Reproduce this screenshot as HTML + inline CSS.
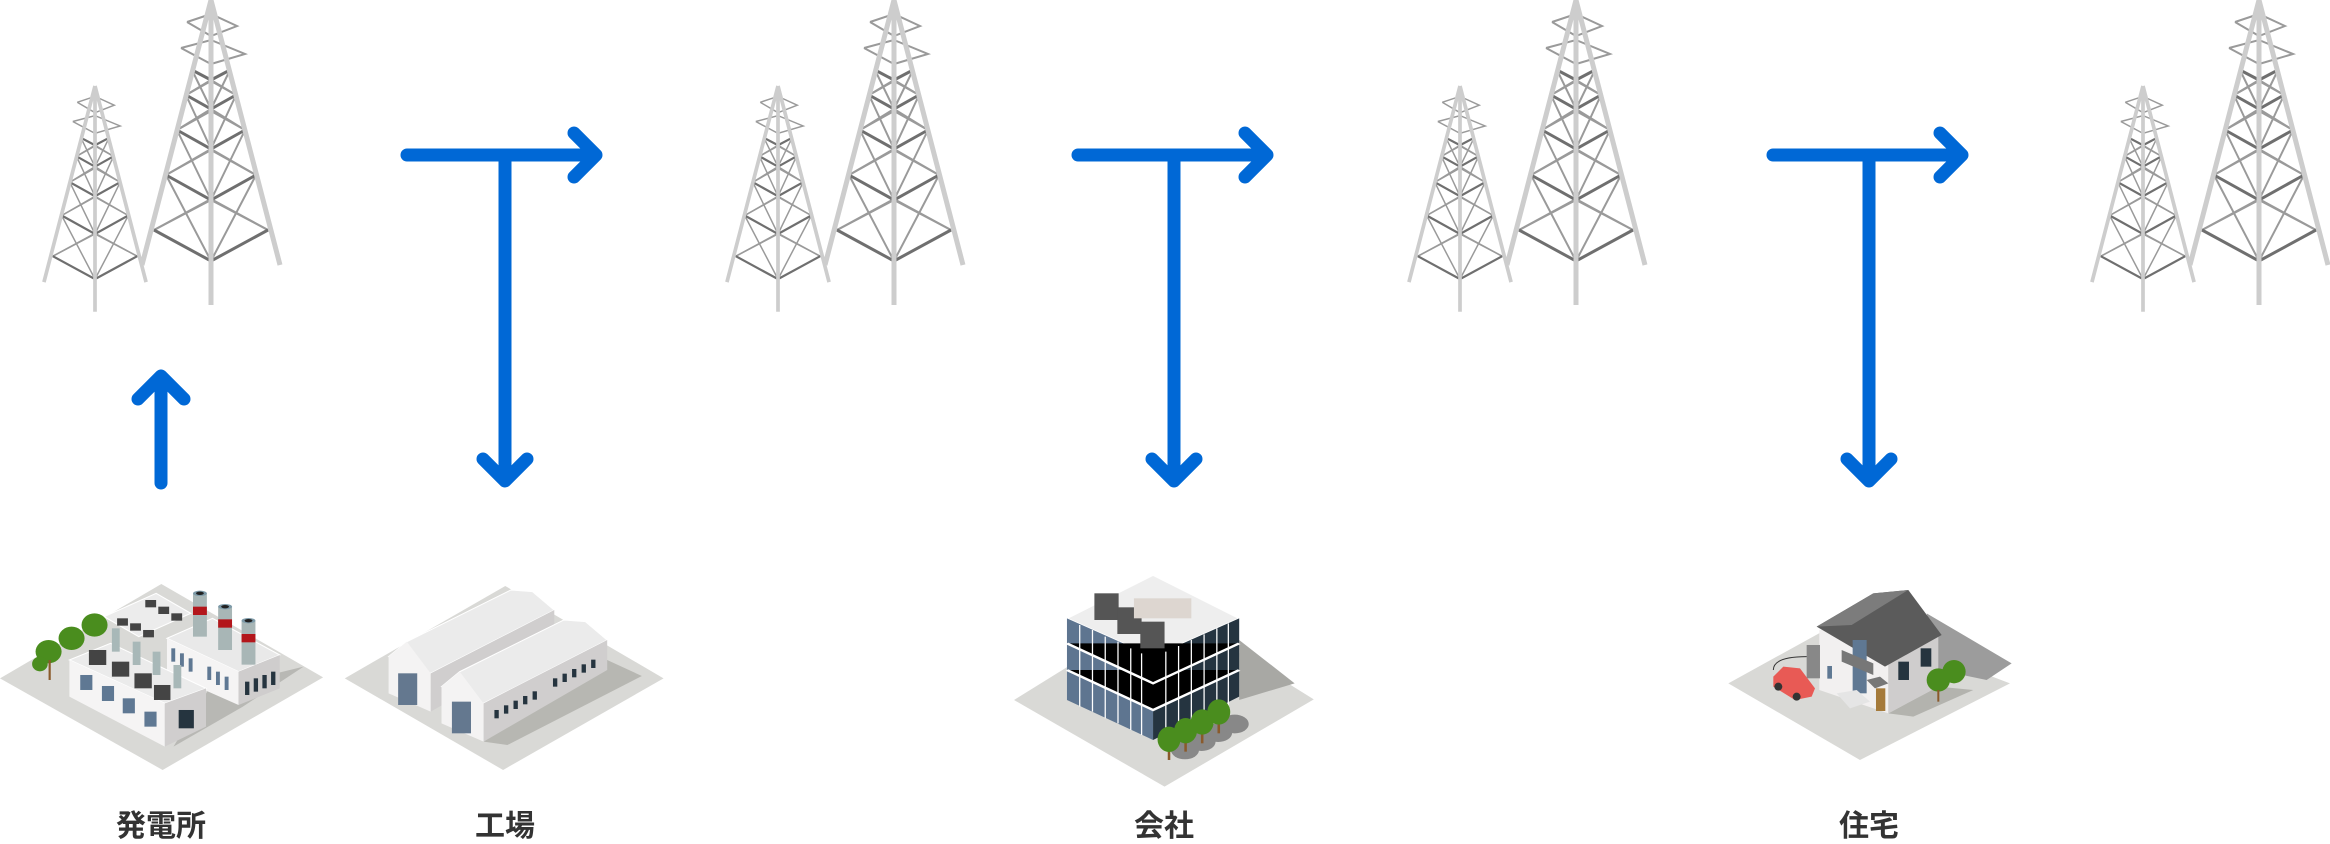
<!DOCTYPE html>
<html><head><meta charset="utf-8"><style>
html,body{margin:0;padding:0;background:#fff;}
svg{display:block}
text{font-family:"Liberation Sans","Noto Sans CJK JP",sans-serif;font-weight:bold;font-size:30px;fill:#333;text-anchor:middle}
</style></head><body>
<svg width="2330" height="844" viewBox="0 0 2330 844" xmlns="http://www.w3.org/2000/svg">
<defs>
<g id="tw">
 <g fill="none" stroke="#9a9a9a" stroke-width="2">
  <polyline points="-24,22 0,14 26,26 0,36 -24,22"/>
  <polyline points="-30,48 0,40 34,54 0,64 -30,48"/>
  <path d="M0,199 L-57,230 M0,199 L57,230 M0,150 L-45,175 M0,150 L45,175 M0,111 L-34,130 M0,111 L34,130 M0,81 L-25,95 M0,81 L25,95"/>
  <path d="M-57,230 L0,200 M57,230 L0,200 M0,261 L-45,175 M0,261 L45,175 M-45,175 L0,149 M45,175 L0,149 M0,200 L-34,130 M0,200 L34,130 M-34,130 L0,109 M34,130 L0,109 M0,149 L-25,95 M0,149 L25,95 M-25,95 L0,80 M25,95 L0,80 M0,109 L-19,70 M0,109 L19,70"/>
 </g>
 <g fill="none" stroke="#6f6f6f" stroke-width="3">
  <path d="M-57,230 L0,261 L57,230 M-45,175 L0,200 L45,175 M-34,130 L0,149 L34,130 M-25,95 L0,109 L25,95 M-19,70 L0,80 L19,70"/>
 </g>
 <g stroke="#cdcdcd" stroke-width="5" fill="none">
  <path d="M0,0 L-69,265 M0,0 L69,265 M0,0 L0,305"/>
 </g>
</g>
<g id="pair">
 <use href="#tw" transform="translate(95,86) scale(0.74)"/>
 <use href="#tw" transform="translate(211,0)"/>
</g>
</defs>

<use href="#pair"/>
<use href="#pair" transform="translate(683,0)"/>
<use href="#pair" transform="translate(1365,0)"/>
<use href="#pair" transform="translate(2048,0)"/>

<g stroke="#0068d6" stroke-width="13" fill="none" stroke-linecap="round" stroke-linejoin="round">
 <path d="M161,483 L161,376 M138,399 L161,376 L184,399"/>
 <path d="M407,155 L596,155 M574,133 L596,155 L574,177 M505,155 L505,481 M483,459 L505,481 L527,459"/>
 <path d="M1078,155 L1267,155 M1245,133 L1267,155 L1245,177 M1174,155 L1174,481 M1152,459 L1174,481 L1196,459"/>
 <path d="M1773,155 L1962,155 M1940,133 L1962,155 L1940,177 M1869,155 L1869,481 M1847,459 L1869,481 L1891,459"/>
</g>

<!-- power plant + factory -->
<g transform="translate(0,560) scale(0.4337,0.3333)">
 <polygon points="0,355 372,72 745,352 375,630" fill="#d9d9d6"/>
 <polygon points="480,390 700,320 560,440 400,560" fill="#b8b8b4"/>
 <polygon points="240,170 360,100 440,160 320,230" fill="#ececec" stroke="#fff" stroke-width="3"/>
 <!-- block2 -->
 <polygon points="385,235 490,175 645,285 550,335" fill="#e9e9e9" stroke="#fff" stroke-width="3"/>
 <polygon points="385,235 550,335 550,435 385,340" fill="#f5f4f4"/>
 <polygon points="550,335 645,285 645,385 550,435" fill="#cfcdcd"/>
 <g fill="#25343f"><rect x="565" y="365" width="10" height="40"/><rect x="585" y="355" width="10" height="40"/><rect x="605" y="345" width="10" height="40"/><rect x="625" y="335" width="10" height="40"/></g>
 <g fill="#5f7893"><rect x="395" y="265" width="9" height="40"/><rect x="415" y="280" width="9" height="40"/><rect x="435" y="295" width="9" height="40"/><rect x="478" y="320" width="9" height="40"/><rect x="498" y="335" width="9" height="40"/><rect x="518" y="350" width="9" height="40"/></g>
 <!-- chimneys -->
 <g>
  <rect x="445" y="100" width="32" height="130" fill="#a8b6b6"/><rect x="445" y="140" width="32" height="25" fill="#b3161b"/><ellipse cx="461" cy="100" rx="16" ry="8" fill="#7d9aa8"/><ellipse cx="461" cy="100" rx="9" ry="5" fill="#222"/>
  <rect x="503" y="140" width="32" height="130" fill="#a8b6b6"/><rect x="503" y="178" width="32" height="25" fill="#b3161b"/><ellipse cx="519" cy="140" rx="16" ry="8" fill="#7d9aa8"/><ellipse cx="519" cy="140" rx="9" ry="5" fill="#222"/>
  <rect x="557" y="182" width="32" height="132" fill="#a8b6b6"/><rect x="557" y="222" width="32" height="25" fill="#b3161b"/><ellipse cx="573" cy="182" rx="16" ry="8" fill="#7d9aa8"/><ellipse cx="573" cy="182" rx="9" ry="5" fill="#222"/>
 </g>
 <!-- block1 -->
 <polygon points="160,300 255,250 475,385 380,430" fill="#ebebeb" stroke="#fff" stroke-width="3"/>
 <polygon points="160,300 380,430 380,560 160,410" fill="#f5f4f4"/>
 <polygon points="380,430 475,385 475,500 380,560" fill="#d0cece"/>
 <rect x="412" y="450" width="35" height="55" fill="#25343f"/>
 <g fill="#5f7893"><rect x="185" y="345" width="28" height="45"/><rect x="235" y="378" width="28" height="45"/><rect x="283" y="415" width="28" height="45"/><rect x="333" y="455" width="28" height="45"/></g>
 <g fill="#444"><rect x="205" y="270" width="40" height="45"/><rect x="258" y="305" width="40" height="45"/><rect x="310" y="340" width="40" height="45"/><rect x="355" y="375" width="38" height="45"/>
 <rect x="270" y="175" width="25" height="22"/><rect x="300" y="190" width="25" height="22"/><rect x="330" y="210" width="25" height="22"/><rect x="335" y="120" width="25" height="22"/><rect x="365" y="140" width="25" height="22"/><rect x="395" y="160" width="25" height="22"/></g>
 <g fill="#a8b8b8"><rect x="258" y="205" width="18" height="70"/><rect x="306" y="245" width="18" height="70"/><rect x="352" y="275" width="18" height="70"/><rect x="400" y="315" width="18" height="70"/></g>
 <g fill="#4a8d1e"><ellipse cx="218" cy="195" rx="30" ry="35"/><ellipse cx="165" cy="235" rx="30" ry="35"/><ellipse cx="112" cy="275" rx="30" ry="35"/><ellipse cx="92" cy="312" rx="18" ry="22"/></g>
 <rect x="112" y="300" width="5" height="60" fill="#8a5a2b"/>
 <!-- factory -->
 <polygon points="795,355 1165,78 1530,355 1160,630" fill="#d9d9d6"/>
 <polygon points="1400,300 1480,348 1170,555 1115,545" fill="#b7b7b2"/>
 <polygon points="896,290 938,245 1178,90 1228,95 1278,150 993,340" fill="#ebebeb" stroke="#fff" stroke-width="3"/>
 <polygon points="993,340 1278,150 1278,245 993,455" fill="#d0cece"/>
 <polygon points="896,290 938,245 993,340 993,455 896,400" fill="#f4f3f3"/>
 <rect x="918" y="340" width="44" height="95" fill="#64788f"/>
 <polygon points="1018,380 1060,335 1300,180 1350,185 1400,240 1115,430" fill="#ebebeb" stroke="#fff" stroke-width="3"/>
 <polygon points="1115,430 1400,240 1400,330 1115,545" fill="#d0cece"/>
 <polygon points="1018,380 1060,335 1115,430 1115,545 1018,490" fill="#f4f3f3"/>
 <rect x="1042" y="425" width="44" height="95" fill="#64788f"/>
 <g fill="#25343f"><rect x="1140" y="450" width="10" height="25"/><rect x="1162" y="436" width="10" height="25"/><rect x="1184" y="422" width="10" height="25"/><rect x="1206" y="408" width="10" height="25"/><rect x="1228" y="394" width="10" height="25"/><rect x="1275" y="355" width="10" height="25"/><rect x="1297" y="341" width="10" height="25"/><rect x="1319" y="327" width="10" height="25"/><rect x="1341" y="313" width="10" height="25"/><rect x="1363" y="299" width="10" height="25"/></g>
</g>

<!-- office -->
<g transform="translate(1000,540) scale(0.6378,0.3333)">
 <polygon points="22,480 258,200 492,478 258,740" fill="#d9d9d6"/>
 <polygon points="375,300 462,430 375,480" fill="#a8a8a4"/>
 <polygon points="105,235 240,105 375,235 240,350" fill="#eeeeee" stroke="#fff" stroke-width="4"/>
 <polygon points="105,235 240,350 240,600 105,480" fill="#5e7590"/>
 <polygon points="240,350 375,235 375,470 240,600" fill="#253440"/>
 <g stroke="#fff" stroke-width="6"><path d="M105,310 L240,430 L375,310 M105,390 L240,510 L375,390"/></g>
 <g stroke="#fff" stroke-width="2"><path d="M125,255 L125,500 M145,270 L145,515 M165,290 L165,535 M185,305 L185,550 M205,325 L205,570 M222,340 L222,585 M260,335 L260,585 M280,318 L280,568 M300,300 L300,550 M320,283 L320,533 M340,265 L340,515 M358,250 L358,500"/></g>
 <g fill="#555"><rect x="148" y="160" width="38" height="80"/><rect x="184" y="202" width="38" height="80"/><rect x="220" y="245" width="38" height="80"/></g>
 <rect x="210" y="175" width="90" height="60" fill="#ddd6d0"/>
 <g fill="#888"><ellipse cx="290" cy="630" rx="22" ry="28"/><ellipse cx="316" cy="605" rx="22" ry="28"/><ellipse cx="342" cy="578" rx="22" ry="28"/><ellipse cx="368" cy="552" rx="22" ry="28"/></g>
 <g fill="#8a5a2b"><rect x="263" y="600" width="4" height="60"/><rect x="289" y="575" width="4" height="60"/><rect x="315" y="550" width="4" height="60"/><rect x="341" y="520" width="4" height="60"/></g>
 <g fill="#4a8d1e"><ellipse cx="265" cy="598" rx="18" ry="38"/><ellipse cx="291" cy="572" rx="18" ry="38"/><ellipse cx="317" cy="546" rx="18" ry="38"/><ellipse cx="343" cy="516" rx="18" ry="38"/></g>
</g>

<!-- house -->
<g transform="translate(1700,560) scale(0.3333)">
 <polygon points="85,370 430,180 930,370 480,600" fill="#d9d9d6"/>
 <polygon points="680,160 935,310 860,360 715,330" fill="#9c9c9c"/>
 <polygon points="565,460 715,380 820,390 640,470" fill="#b3b3ae"/>
 <polygon points="358,210 455,195 565,305 565,460 358,390" fill="#f2f0f0"/>
 <polygon points="565,305 715,225 715,380 565,460" fill="#cfcdcd"/>
 <polygon points="350,200 520,100 625,90 725,225 555,320" fill="#5b5b5b"/>
 <polygon points="350,200 520,100 625,90 455,195" fill="#7c7c7c"/>
 <rect x="458" y="240" width="42" height="160" fill="#5f7893"/>
 <polygon points="425,270 520,310 520,345 425,305" fill="#777"/>
 <rect x="382" y="318" width="14" height="38" fill="#5f7893"/>
 <rect x="528" y="385" width="28" height="68" fill="#a57a3a"/>
 <polygon points="500,360 540,350 565,370 525,385" fill="#777"/>
 <polygon points="410,400 470,390 510,425 450,445" fill="#e5e5e5"/>
 <g fill="#25343f"><rect x="595" y="305" width="32" height="55"/><rect x="662" y="265" width="32" height="55"/></g>
 <rect x="320" y="255" width="40" height="100" fill="#888"/>
 <path d="M320,290 C260,290 220,300 220,330" stroke="#333" stroke-width="3" fill="none"/>
 <polygon points="220,350 250,320 300,325 345,385 335,410 285,420 220,380" fill="#e85a55"/>
 <circle cx="235" cy="380" r="12" fill="#333"/><circle cx="290" cy="410" r="12" fill="#333"/>
 <g fill="#4a8d1e"><circle cx="762" cy="335" r="35"/><circle cx="715" cy="360" r="35"/></g>
 <rect x="712" y="390" width="6" height="35" fill="#8a5a2b"/>
</g>

<text x="161" y="836">発電所</text>
<text x="505" y="836">工場</text>
<text x="1164" y="836">会社</text>
<text x="1869" y="836">住宅</text>
</svg>
</body></html>
